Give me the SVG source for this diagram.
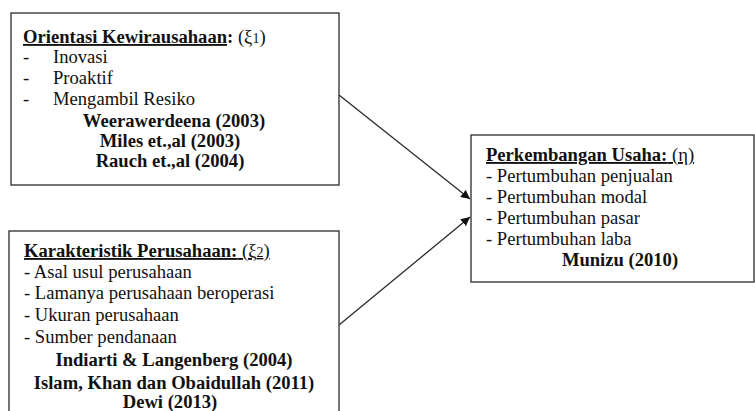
<svg xmlns="http://www.w3.org/2000/svg" width="755" height="411" viewBox="0 0 755 411" font-family="'Liberation Serif', Tinos, 'Times New Roman', 'DejaVu Serif', serif">
<style>
.box{fill:#fff;stroke:#3a3a3a;stroke-width:1.4}
text{font-family:'Liberation Serif', Tinos, 'Times New Roman', 'DejaVu Serif', serif;font-size:18.6px;fill:#111}
.b{font-weight:bold}
.c{text-anchor:middle;font-weight:bold}
.u{text-decoration:underline}
.sub{font-size:14px}
.conn{stroke:#2a2a2a;stroke-width:1.3;fill:none}
</style>
<defs>
<marker id="ah" viewBox="0 0 10 10" refX="10" refY="5" markerWidth="9" markerHeight="9" markerUnits="userSpaceOnUse" orient="auto">
<path d="M0,0 L10,5 L0,10 z" fill="#111"/>
</marker>
</defs>
<rect width="755" height="411" fill="#fff"/>
<g id="connectors">
<line class="conn" x1="339" y1="95" x2="470" y2="199" marker-end="url(#ah)"/>
<line class="conn" x1="339" y1="325" x2="470" y2="217" marker-end="url(#ah)"/>
</g>
<g id="orientasi">
<rect class="box" x="11" y="13" width="328" height="172"/>
<text x="23" y="43"><tspan class="b u">Orientasi Kewirausahaan</tspan><tspan class="b">:</tspan> (ξ<tspan class="sub">1</tspan>)</text>
<text x="23" y="63">-</text><text x="53" y="63">Inovasi</text>
<text x="23" y="84">-</text><text x="53" y="84">Proaktif</text>
<text x="23" y="105">-</text><text x="53" y="105">Mengambil Resiko</text>
<text class="c" x="174" y="127">Weerawerdeena (2003)</text>
<text class="c" x="170" y="147">Miles et.,al (2003)</text>
<text class="c" x="170" y="167">Rauch et.,al (2004)</text>
</g>
<g id="karakteristik">
<rect class="box" x="9" y="231" width="330" height="200"/>
<text x="24" y="257" class="u"><tspan class="b">Karakteristik Perusahaan:</tspan> (ξ<tspan class="sub">2</tspan>)</text>
<text x="24" y="278">- Asal usul perusahaan</text>
<text x="24" y="299">- Lamanya perusahaan beroperasi</text>
<text x="24" y="321">- Ukuran perusahaan</text>
<text x="24" y="343">- Sumber pendanaan</text>
<text class="c" x="174" y="366">Indiarti &amp; Langenberg (2004)</text>
<text class="c" x="174" y="389">Islam, Khan dan Obaidullah (2011)</text>
<text class="c" x="170" y="408">Dewi (2013)</text>
</g>
<g id="perkembangan">
<rect class="box" x="471" y="135" width="283" height="147"/>
<text x="486" y="161" class="u"><tspan class="b">Perkembangan Usaha:</tspan> (η)</text>
<text x="486" y="182">- Pertumbuhan penjualan</text>
<text x="486" y="203">- Pertumbuhan modal</text>
<text x="486" y="224">- Pertumbuhan pasar</text>
<text x="486" y="245">- Pertumbuhan laba</text>
<text class="c" x="620" y="266">Munizu (2010)</text>
</g>
</svg>
